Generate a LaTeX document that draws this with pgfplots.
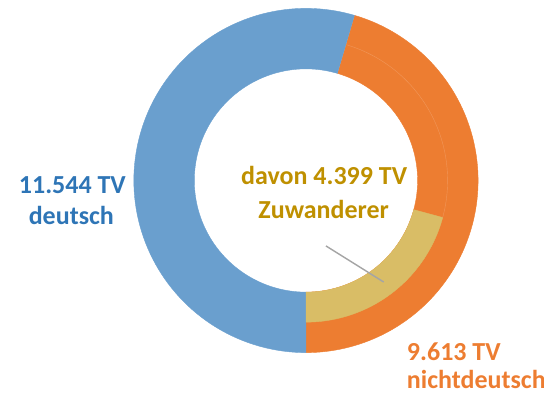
\documentclass[border=0pt]{standalone}
\usepackage{pgfplots}
\usepackage{pgfplotstable}
\pgfplotsset{compat=1.18}
\usepackage{fontspec}
\setmainfont{Carlito}
\definecolor{ringblue}{HTML}{6A9FCE}
\definecolor{ringorange}{HTML}{ED7D31}
\definecolor{ringgold}{HTML}{D9BD66}
\definecolor{txtblue}{HTML}{2E75B6}
\definecolor{txtgold}{HTML}{BF9000}
\definecolor{txtorange}{HTML}{ED7D31}
\definecolor{leadgray}{HTML}{A5A5A5}

\pgfplotstableread{
name value
deutsch 11.544
nichtdeutsch 9.613
zuwanderer 4.399
}\datatable

\def\cx{302}
\def\cy{219.5}
\def\rin{113.5}
\def\rmid{144}
\def\rout{175}

% annular sector: color, start angle, end angle, inner r, outer r
\newcommand{\sector}[5]{%
  \addplot[fill=#1, draw=#1, line width=0.3pt, domain=0:3, samples=301, variable=\t]
  ({\cx + ((#5) - ((#5)-(#4))*min(max(\t-1,0),1))*cos((#2) + ((#3)-(#2))*min(\t,1) - ((#3)-(#2))*max(\t-2,0))},
   {\cy + ((#5) - ((#5)-(#4))*min(max(\t-1,0),1))*sin((#2) + ((#3)-(#2))*min(\t,1) - ((#3)-(#2))*max(\t-2,0))});
}

\begin{document}
\pgfplotstablegetelem{0}{value}\of\datatable \let\vDe\pgfplotsretval
\pgfplotstablegetelem{1}{value}\of\datatable \let\vNd\pgfplotsretval
\pgfplotstablegetelem{2}{value}\of\datatable \let\vZu\pgfplotsretval
\pgfmathsetmacro{\tot}{\vDe+\vNd}
\pgfmathsetmacro{\aNd}{-90+360*\vNd/\tot}
\pgfmathsetmacro{\aZu}{-90+360*\vZu/\tot}
\begin{tikzpicture}
\useasboundingbox (0,0) rectangle (408pt,302.25pt);
\begin{axis}[
  at={(0,0)}, anchor=south west,
  scale only axis, width=408pt, height=302.25pt,
  xmin=0, xmax=544, ymin=0, ymax=403,
  hide axis, clip=false,
  every node/.append style={inner sep=0pt},
]
\sector{ringorange}{-90}{\aNd}{\rin}{\rout}
\sector{ringblue}{\aNd}{270}{\rin}{\rout}
\sector{ringgold}{-90}{\aZu}{\rin}{\rmid}
\addplot[draw=ringorange!80!white, line width=0.3pt, domain=\aZu:\aNd, samples=80]
  ({\cx+\rmid*cos(x)},{\cy+\rmid*sin(x)});
\addplot[color=leadgray, line width=1.1pt] coordinates {(322.3,153) (381,116.3)};

\node[anchor=base, text=txtblue, font=\bfseries\fontsize{19.8}{23}\selectfont] at (axis cs:64.5,206.3) {11.544 TV};
\node[anchor=base, text=txtblue, font=\bfseries\fontsize{19.8}{23}\selectfont] at (axis cs:63.5,174.7) {deutsch};
\node[anchor=base, text=txtgold, font=\bfseries\fontsize{19.8}{23}\selectfont] at (axis cs:320.5,215.3) {davon 4.399 TV};
\node[anchor=base, text=txtgold, font=\bfseries\fontsize{19.8}{23}\selectfont] at (axis cs:320,181.3) {Zuwanderer};
\node[anchor=base west, text=txtorange, font=\bfseries\fontsize{19.8}{23}\selectfont] at (axis cs:400,37) {9.613 TV};
\node[anchor=base west, text=txtorange, font=\bfseries\fontsize{19.8}{23}\selectfont] at (axis cs:400,8) {nichtdeutsch};
\end{axis}
\end{tikzpicture}
\end{document}
